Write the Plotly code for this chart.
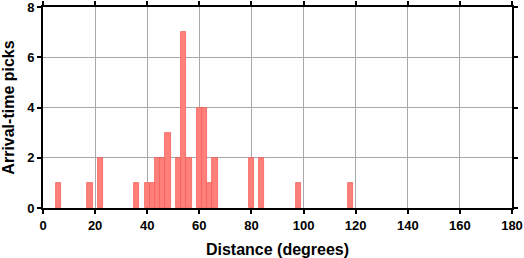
import plotly.graph_objects as go

# Histogram bins (start of 2-degree bin) and counts
bin_starts = [5, 17, 21, 35, 39, 41, 43, 45, 47, 51, 53, 55, 59, 61, 63, 65, 79, 83, 97, 117]
counts = [1, 1, 2, 1, 1, 1, 2, 2, 3, 2, 7, 2, 4, 4, 1, 2, 2, 2, 1, 1]
bin_width = 2
x_ticks = [0, 20, 40, 60, 80, 100, 120, 140, 160, 180]
y_ticks = [0, 2, 4, 6, 8]

centers = [b + bin_width / 2 for b in bin_starts]

fig = go.Figure(go.Bar(
    x=centers, y=counts, width=[bin_width] * len(centers),
    marker=dict(color="rgb(255,128,122)", line=dict(color="rgb(245,95,90)", width=0.8)),
))

font_family = "Liberation Sans, Arial, Helvetica, sans-serif"
axis_common = dict(
    showline=True, linecolor="black", linewidth=2, mirror="ticks",
    ticks="outside", ticklen=4, tickwidth=1.5, tickcolor="black",
    showgrid=True, gridcolor="#a8a8a8", gridwidth=1, zeroline=False,
    automargin=False, ticklabeloverflow="allow",
    tickfont=dict(family=font_family, size=13, color="black", weight="bold"),
)

fig.update_layout(
    width=524, height=258,
    margin=dict(l=43, r=12, t=7, b=50),
    plot_bgcolor="white", paper_bgcolor="white",
    showlegend=False, bargap=0,
    xaxis=dict(range=[0, 180], tickvals=x_ticks,
               title=dict(text="Distance (degrees)", standoff=13,
                          font=dict(family=font_family, size=16, color="black", weight="bold")),
               **axis_common),
    yaxis=dict(range=[0, 8], tickvals=y_ticks,
               title=dict(text="Arrival-time picks", standoff=9,
                          font=dict(family=font_family, size=16, color="black", weight="bold")),
               **axis_common),
)

fig.write_html("out.html")
